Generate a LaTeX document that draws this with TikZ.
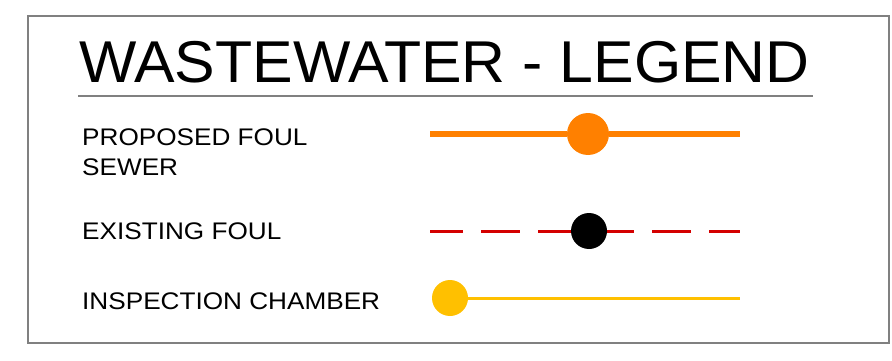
\documentclass[tikz,border=0pt]{standalone}
\usepackage{fontspec}
\setmainfont{Liberation Sans}
\newfontfamily\titlefont[FakeStretch=1.03]{Liberation Sans}
\newfontfamily\labelfont[FakeStretch=1.09]{Liberation Sans}
\definecolor{foulorange}{HTML}{FF8000}
\definecolor{foulred}{HTML}{D40000}
\definecolor{chamberyellow}{HTML}{FFC000}
\definecolor{framegray}{HTML}{808080}
\tikzstyle{title} = [anchor=base west, inner sep=0pt, font=\titlefont\fontsize{59}{59}\selectfont]
\tikzstyle{label} = [anchor=base west, inner sep=0pt, align=left, font=\labelfont\fontsize{24}{30}\selectfont]
\tikzstyle{dot} = [circle, inner sep=0pt, draw=none]
\tikzstyle{proposed} = [line width=6pt, foulorange]
\tikzstyle{existing} = [line width=3pt, foulred, dash pattern=on 39pt off 18pt, dash phase=6pt]
\tikzstyle{chamber} = [line width=3pt, chamberyellow]

\begin{document}
\begin{tikzpicture}[x=1pt, y=-1pt]

\useasboundingbox (0,0) rectangle (892,361);
\draw [framegray, line width=1.5pt] (28,16) rectangle (889,343);

%% NODES

\node (head) [title] at (79,82) {WASTEWATER - LEGEND};
\node (pfs_label) [label] at (82,175) {PROPOSED FOUL\\SEWER};
\node (ef_label) [label] at (82,239) {EXISTING FOUL};
\node (ic_label) [label] at (82,309) {INSPECTION CHAMBER};

\coordinate (pfs_a) at (430,134);
\coordinate (pfs_b) at (740,134);
\coordinate (ef_a) at (430,231);
\coordinate (ef_b) at (740,231);
\coordinate (ic_b) at (740,298);

\node (pfs_dot) [dot, fill=foulorange, minimum size=42pt] at (588,134) {};
\node (ic_dot) [dot, fill=chamberyellow, minimum size=36pt] at (450,298) {};

%% LINES

\draw [framegray, line width=1.5pt] (78,96) -- (813,96);
\draw [proposed] (pfs_a) -- (pfs_dot);
\draw [proposed] (pfs_dot) -- (pfs_b);
\draw [existing] (ef_a) -- (ef_b);
\node (ef_dot) [dot, fill=black, minimum size=36pt] at (589,231) {};
\draw [chamber] (ic_dot) -- (ic_b);

\end{tikzpicture}
\end{document}
